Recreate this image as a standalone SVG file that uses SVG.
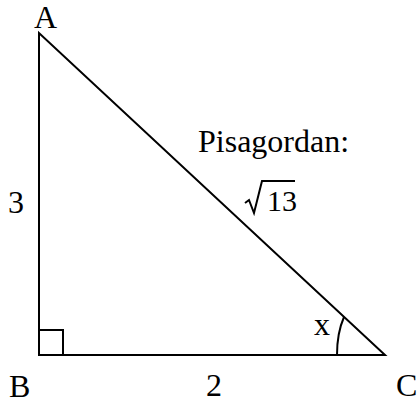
<svg xmlns="http://www.w3.org/2000/svg" width="417" height="403" viewBox="0 0 417 403">
<style>
.l{stroke:#000;stroke-width:2;fill:none}
.t{font-family:"Liberation Serif","Times New Roman",serif;font-size:32px;fill:#000}
</style>
<rect width="417" height="403" fill="#fff"/>
<g id="connectors">
<path class="l" d="M39,33 L39,355 L385,355 Z" stroke-linejoin="miter"/>
<path class="l" d="M39,330 H63 V355"/>
<path class="l" d="M337,355 Q337,333 344,317"/>
<path class="l" stroke-width="1.5" d="M245,203 L249,200 L254,213 L262,181 L295,181"/>
</g>
<g id="A"><text class="t" x="34" y="28">A</text></g>
<g id="B"><text class="t" x="9" y="397">B</text></g>
<g id="C"><text class="t" x="396" y="396">C</text></g>
<g id="side3"><text class="t" x="8" y="213">3</text></g>
<g id="side2"><text class="t" x="206" y="396">2</text></g>
<g id="hyp"><text class="t" x="198" y="152">Pisagordan:</text><text class="t" x="267" y="211" style="font-size:30px">13</text></g>
<g id="angle"><text class="t" x="314" y="335">x</text></g>
</svg>
